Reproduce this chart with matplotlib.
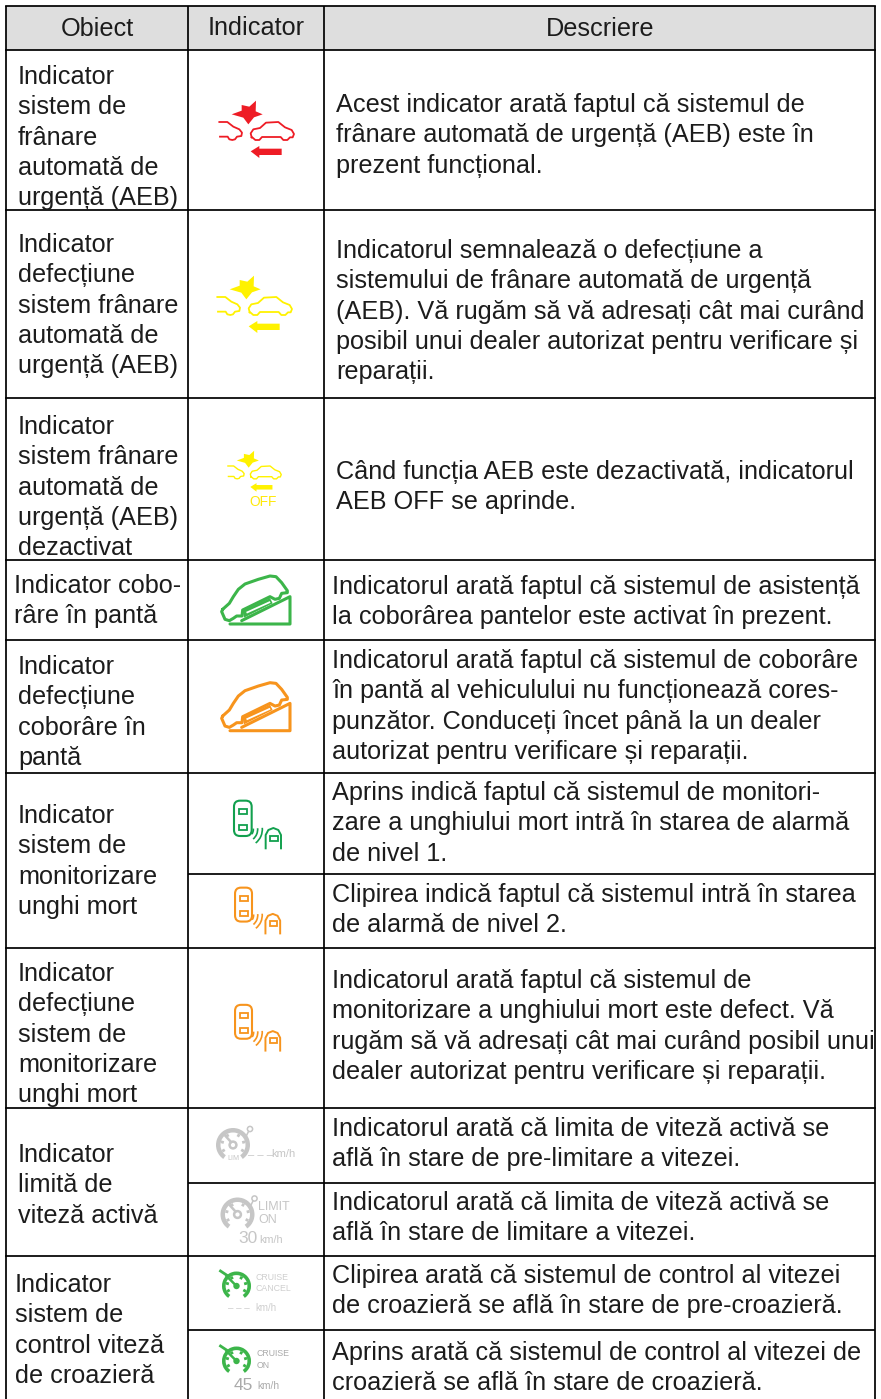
import numpy as np
import matplotlib
matplotlib.use("Agg")
import matplotlib.pyplot as plt
from matplotlib.patches import Polygon, Rectangle, FancyBboxPatch, Wedge, Circle, Arc

plt.rcParams['font.family'] = ['Liberation Sans', 'DejaVu Sans']

W, H = 881, 1399
TEXT_COL = '#1c1c1c'
RED = '#ee1c25'
YELLOW = '#fff200'
GREEN = '#3cb54a'
ORANGE = '#f7941d'
DKGREEN = '#12a04e'
GREY = '#c6c6c6'

headers = ["Obiect", "Indicator", "Descriere"]

object_lines = [
    ["Indicator", "sistem de", "frânare", "automată de", "urgență (AEB)"],
    ["Indicator", "defecțiune", "sistem frânare", "automată de", "urgență (AEB)"],
    ["Indicator", "sistem frânare", "automată de", "urgență (AEB)", "dezactivat"],
    ["Indicator cobo-", "râre în pantă"],
    ["Indicator", "defecțiune", "coborâre în", "pantă"],
    ["Indicator", "sistem de", "monitorizare", "unghi mort"],
    ["Indicator", "defecțiune", "sistem de", "monitorizare", "unghi mort"],
    ["Indicator", "limită de", "viteză activă"],
    ["Indicator", "sistem de", "control viteză", "de croazieră"],
]
object_x = [18, 18, 18, 14, 18, 18, 18, 18, 15]
object_y = [84, 252, 434, 593, 674, 823, 981, 1162, 1292]

desc_lines = [
    ["Acest indicator arată faptul că sistemul de", "frânare automată de urgență (AEB) este în", "prezent funcțional."],
    ["Indicatorul semnalează o defecțiune a", "sistemului de frânare automată de urgență", "(AEB). Vă rugăm să vă adresați cât mai curând", "posibil unui dealer autorizat pentru verificare și", "reparații."],
    ["Când funcția AEB este dezactivată, indicatorul", "AEB OFF se aprinde."],
    ["Indicatorul arată faptul că sistemul de asistență", "la coborârea pantelor este activat în prezent."],
    ["Indicatorul arată faptul că sistemul de coborâre", "în pantă al vehiculului nu funcționează cores-", "punzător. Conduceți încet până la un dealer", "autorizat pentru verificare și reparații."],
    ["Aprins indică faptul că sistemul de monitori-", "zare a unghiului mort intră în starea de alarmă", "de nivel 1."],
    ["Clipirea indică faptul că sistemul intră în starea", "de alarmă de nivel 2."],
    ["Indicatorul arată faptul că sistemul de", "monitorizare a unghiului mort este defect. Vă", "rugăm să vă adresați cât mai curând posibil unui", "dealer autorizat pentru verificare și reparații."],
    ["Indicatorul arată că limita de viteză activă se", "află în stare de pre-limitare a vitezei."],
    ["Indicatorul arată că limita de viteză activă se", "află în stare de limitare a vitezei."],
    ["Clipirea arată că sistemul de control al vitezei", "de croazieră se află în stare de pre-croazieră."],
    ["Aprins arată că sistemul de control al vitezei de", "croazieră se află în stare de croazieră."],
]
desc_x = [336, 336, 336, 332, 332, 332, 332, 332, 332, 332, 332, 332]
desc_y = [112, 258, 479, 594, 668, 800, 902, 988, 1136, 1210, 1283, 1360]

# table grid, px
col_x = [6, 188, 324, 875]
full_rows = [6, 50, 210, 398, 560, 640, 773, 948, 1108, 1256]
inner_rows = [874, 1183, 1330]

star_pts = [(198, 62), (197, 94), (218, 103), (192, 112), (175, 133), (160, 113), (125, 103), (155, 92), (155, 75), (178, 80)]
left_car = [(88, 126), (112, 126), (130, 140), (148, 148), (156, 158), (154, 168), (141, 170), (135, 178), (127, 180), (118, 178), (113, 170), (90, 170)]
right_car = [(185, 172), (182, 160), (190, 148), (210, 144), (228, 128), (265, 126), (285, 142), (305, 150), (312, 162), (308, 172), (300, 172), (292, 180), (280, 180), (272, 171), (216, 171), (208, 180), (196, 180), (188, 173), (185, 172)]
arrow_pts = [(182, 214), (208, 198), (208, 206), (275, 206), (275, 225), (208, 225), (208, 234)]

ramp_pts = [(180, 162), (360, 162), (360, 80), (215, 152)]
hill_car = [(158, 118), (178, 100), (190, 80), (205, 58), (225, 42), (265, 28), (300, 18), (318, 20), (335, 38), (352, 62), (352, 68), (335, 70), (328, 85), (315, 88), (300, 80), (218, 120), (216, 138), (200, 138), (190, 145), (178, 152), (165, 148), (155, 125), (158, 118)]
hill_fill = [(218, 122), (300, 84), (308, 100), (222, 143)]
hill_slit = [(232, 127), (298, 97)]


def px(pts, ox, oy, s=1 / 3):
    return [(ox + x * s, oy + y * s) for x, y in pts]


def aeb_icon(ax, ox, oy, color, s=1 / 3, lw=1.3):
    ax.add_patch(Polygon(px(star_pts, ox, oy, s), closed=True, fc=color, ec='none'))
    for shape in (left_car, right_car):
        p = np.array(px(shape, ox, oy, s))
        ax.plot(p[:, 0], p[:, 1], color=color, lw=lw, solid_joinstyle='round')
    ax.add_patch(Polygon(px(arrow_pts, ox, oy, s), closed=True, fc=color, ec='none'))


def hill_icon(ax, ox, oy, color):
    for shape in (ramp_pts, hill_car):
        p = np.array(px(shape, ox, oy))
        ax.plot(p[:, 0], p[:, 1], color=color, lw=2.2, solid_joinstyle='round', solid_capstyle='round')
    ax.add_patch(Polygon(px(hill_fill, ox, oy), closed=True, fc=color, ec='none'))
    p = np.array(px(hill_slit, ox, oy))
    ax.plot(p[:, 0], p[:, 1], color='white', lw=1.3)


def bsm_icon(ax, ox, oy, color, s=1 / 3):
    lw = 1.5
    x, y = px([(192, 62)], ox, oy, s)[0]
    ax.add_patch(FancyBboxPatch((x + 6, y + 6), 53 * s - 12, 106 * s - 12, boxstyle="round,pad=6", fc='none', ec=color, lw=lw))
    for rx, ry in ((208, 88), (208, 135), (300, 167)):
        x, y = px([(rx, ry)], ox, oy, s)[0]
        ax.add_patch(Rectangle((x, y), 24 * s, 15 * s, fc='none', ec=color, lw=1.3))
    for r, t2 in ((25, 35), (38, 50), (52, 52)):
        c = px([(225, 148)], ox, oy, s)[0]
        ax.add_patch(Arc(c, 2 * r * s, 2 * r * s, theta1=-5, theta2=t2, color=color, lw=1.2))
    arch = [(287, 205), (287, 165), (295, 150), (310, 144), (325, 150), (333, 165), (333, 205)]
    p = np.array(px(arch, ox, oy, s))
    ax.plot(p[:, 0], p[:, 1], color=color, lw=1.4)


def gauge(ax, cx, cy, r, width, color, ticks=True):
    ax.add_patch(Wedge((cx, cy), r, 125, 415, width=width, fc=color, ec='none'))
    if ticks:
        for a in (150, 195, 240, 300, 345, 390):
            t = np.deg2rad(a)
            ax.plot([cx + (r - width) * np.cos(t), cx + (r - width - 3) * np.cos(t)],
                    [cy + (r - width) * np.sin(t), cy + (r - width - 3) * np.sin(t)], color=color, lw=2.0, solid_capstyle='butt')


def limit_gauge(ax, cx, cy):
    gauge(ax, cx, cy, 17, 4.5, GREY)
    ax.add_patch(Circle((cx, cy), 3.4, fc='white', ec=GREY, lw=1.8))
    ax.plot([cx - 2, cx - 7.5], [cy - 3, cy - 9], color=GREY, lw=1.8)
    ax.add_patch(Circle((cx + 17, cy - 16), 2.6, fc='white', ec=GREY, lw=1.1))
    ax.plot([cx + 15.5, cx + 13.5], [cy - 13.5, cy - 9.5], color=GREY, lw=1.1)


def cruise_gauge(ax, cx, cy):
    gauge(ax, cx, cy, 14.5, 3.6, GREEN)
    ax.add_patch(Circle((cx, cy), 3.2, fc=GREEN, ec='none'))
    ax.plot([cx, cx - 10], [cy, cy - 10], color=GREEN, lw=1.8)
    ax.plot([cx - 16, cx - 10], [cy - 15, cy - 11], color=GREEN, lw=2.0)


fig = plt.figure(figsize=(W / 100, H / 100), dpi=100)
ax = fig.add_axes([0, 0, 1, 1])
ax.set_xlim(0, W)
ax.set_ylim(H, 0)
ax.axis('off')

# header band and grid
ax.add_patch(Rectangle((col_x[0], full_rows[0]), col_x[-1] - col_x[0], full_rows[1] - full_rows[0], fc='#dedede', ec='none'))
for y in full_rows:
    ax.plot([col_x[0], col_x[-1]], [y, y], color='black', lw=1.25, solid_capstyle='projecting')
for y in inner_rows:
    ax.plot([col_x[1], col_x[-1]], [y, y], color='black', lw=1.25, solid_capstyle='butt')
for x in col_x:
    ax.plot([x, x], [full_rows[0], H], color='black', lw=1.25, solid_capstyle='butt')

FS = 18.15
STEP = 30.3
ax.text(97, 36, headers[0], fontsize=FS, ha='center', va='baseline', color=TEXT_COL)
ax.text(256, 35, headers[1], fontsize=FS, ha='center', va='baseline', color=TEXT_COL)
ax.text(600, 36, headers[2], fontsize=FS, ha='center', va='baseline', color=TEXT_COL)

for lines, x, y in zip(object_lines, object_x, object_y):
    for i, line in enumerate(lines):
        ax.text(x, y + i * STEP, line, fontsize=FS, va='baseline', color=TEXT_COL)
for lines, x, y in zip(desc_lines, desc_x, desc_y):
    for i, line in enumerate(lines):
        ax.text(x, y + i * STEP, line, fontsize=FS, va='baseline', color=TEXT_COL)

# icons
aeb_icon(ax, 190, 80, RED)
aeb_icon(ax, 188, 255, YELLOW)
aeb_icon(ax, 207, 436, YELLOW, s=0.238, lw=1.0)
ax.text(263, 506, "OFF", fontsize=9.9, ha='center', va='baseline', color='#ffe90a')

hill_icon(ax, 170, 570, GREEN)
hill_icon(ax, 170, 676.7, ORANGE)

bsm_icon(ax, 170, 780, DKGREEN)
bsm_icon(ax, 173.6, 867.8, ORANGE, s=0.32)
bsm_icon(ax, 173.6, 985, ORANGE, s=0.32)

limit_gauge(ax, 233, 1145)
ax.text(233, 1158, "LIM", fontsize=5.2, color=GREY, va='center', ha='center')
ax.text(260, 1155, "– – –", fontsize=8, color=GREY, va='center', ha='center')
ax.text(271.5, 1157, "km/h", fontsize=8, color=GREY, va='baseline', ha='left')

limit_gauge(ax, 237.5, 1214.5)
ax.text(258, 1210, "LIMIT", fontsize=9, color=GREY, va='baseline')
ax.text(258, 1223, "ON", fontsize=9, color=GREY, va='baseline')
ax.text(238, 1243, "30", fontsize=12.5, color=GREY, va='baseline')
ax.text(259, 1243, "km/h", fontsize=7.8, color=GREY, va='baseline')

cruise_gauge(ax, 236.5, 1286)
ax.text(255, 1280, "CRUISE", fontsize=6.3, color='#cfcfcf', va='baseline')
ax.text(255, 1291, "CANCEL", fontsize=6.3, color='#cfcfcf', va='baseline')
ax.text(239, 1311, "– – –", fontsize=7, color='#cfcfcf', va='baseline', ha='center')
ax.text(255, 1311, "km/h", fontsize=7, color='#cfcfcf', va='baseline')

cruise_gauge(ax, 236.5, 1361)
ax.text(256.5, 1356, "CRUISE", fontsize=6.3, color='#aaaaaa', va='baseline')
ax.text(256.5, 1368, "ON", fontsize=6.3, color='#aaaaaa', va='baseline')
ax.text(233.5, 1390, "45", fontsize=12.5, color='#aaaaaa', va='baseline')
ax.text(257, 1389, "km/h", fontsize=7.3, color='#aaaaaa', va='baseline')

fig.savefig("out.png", dpi=100)
